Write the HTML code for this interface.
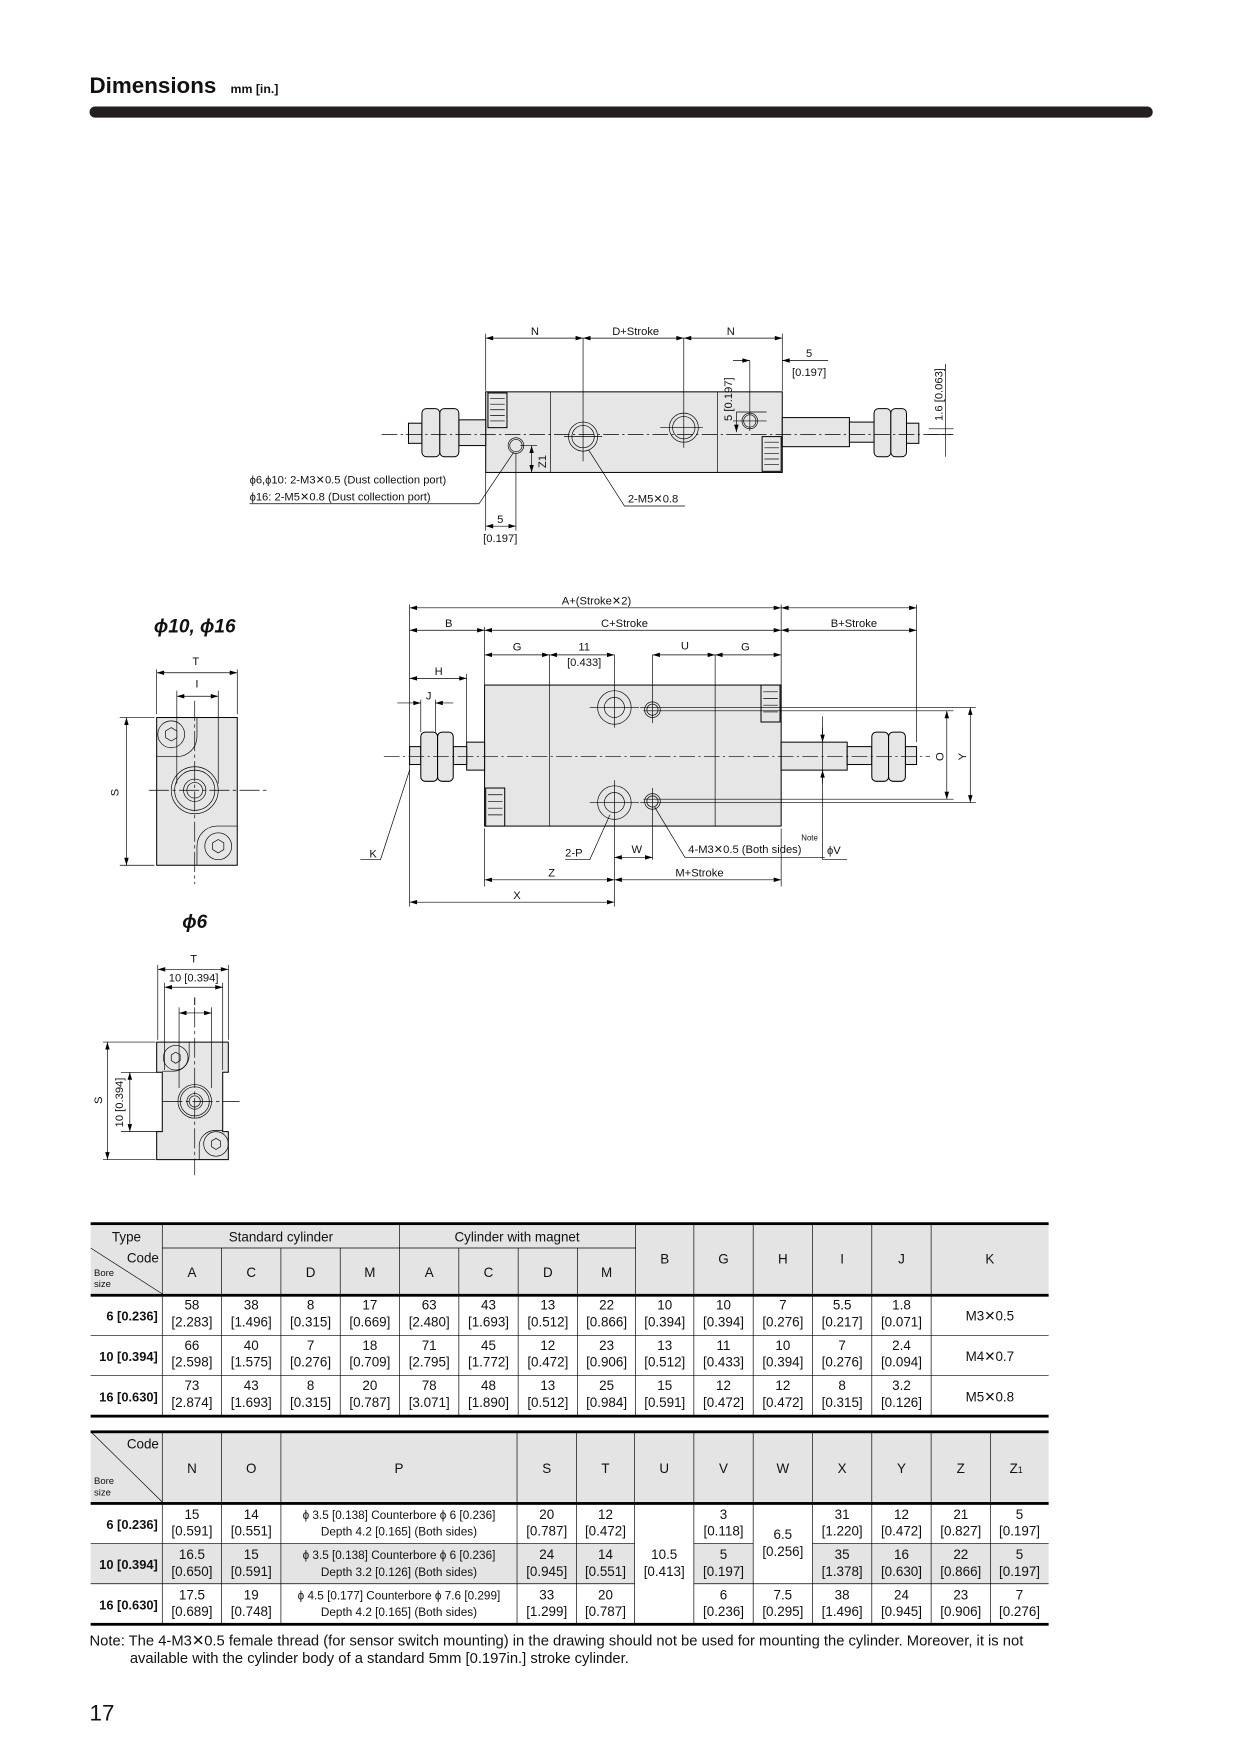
<!DOCTYPE html>
<html><head><meta charset="utf-8"><style>
html,body{margin:0;padding:0;background:#fff}
svg{display:block}
text{font-family:"Liberation Sans Narrow","Liberation Sans",sans-serif;fill:#111}
.t{font-size:12px}
.s{font-size:10px}
.d{font-size:10px}
.l{stroke:#000;stroke-width:.6;fill:none}
.ln{stroke:#000;stroke-width:.7;fill:none}
.b{fill:#e6e6e6;stroke:#000;stroke-width:.9}
.c{stroke:#000;stroke-width:.6;fill:none;stroke-dasharray:14 3 2 3}
.dm{stroke:#000;stroke-width:.6;fill:none;marker-start:url(#a);marker-end:url(#a)}
.de{stroke:#000;stroke-width:.6;fill:none;marker-end:url(#a)}
</style></head><body>
<svg width="1240" height="1754" viewBox="0 0 1108 1567" xmlns="http://www.w3.org/2000/svg">
<defs><marker id="a" viewBox="0 0 10 6" refX="10" refY="3" markerWidth="7" markerHeight="4" orient="auto-start-reverse" markerUnits="userSpaceOnUse"><path d="M0,0L10,3L0,6z" fill="#000"/></marker></defs>

<!-- header -->
<text x="80" y="83" style="font-family:'Liberation Sans',sans-serif;font-size:20px;font-weight:bold">Dimensions</text>
<text x="206" y="83" style="font-family:'Liberation Sans',sans-serif;font-size:11px;font-weight:bold">mm [in.]</text>
<rect x="80" y="95" width="950" height="10" rx="5" fill="#231f20"/>

<!-- ===== TOP VIEW ===== -->
<g>
<rect class="b" x="434" y="350" width="265" height="72"/>
<line class="l" x1="492" y1="350" x2="492" y2="422"/>
<line class="l" x1="641" y1="350" x2="641" y2="422"/>
<rect class="b" x="436" y="351" width="17" height="31"/>
<path class="l" d="M438,356h13M438,361h13M438,366h13M438,371h13M438,376h13"/>
<rect class="b" x="681" y="390" width="17" height="31"/>
<path class="l" d="M683,395h13M683,400h13M683,405h13M683,410h13M683,415h13"/>
<rect class="b" x="410" y="375" width="24" height="23"/>
<rect class="b" x="365" y="378" width="12" height="18"/>
<rect class="b" x="377" y="365" width="16" height="43" rx="4"/>
<rect class="b" x="393" y="365" width="17" height="43" rx="4"/>
<rect class="b" x="699" y="373" width="60" height="26"/>
<rect class="b" x="759" y="377" width="22" height="18"/>
<rect class="b" x="810" y="378" width="11" height="18"/>
<rect class="b" x="781" y="365" width="15" height="43" rx="4"/>
<rect class="b" x="796" y="365" width="14" height="43" rx="4"/>
<line class="c" x1="341" y1="388" x2="850" y2="388"/>
<circle class="l" cx="521" cy="390" r="13"/><circle class="l" cx="521" cy="390" r="10"/>
<line class="l" x1="521" y1="302" x2="521" y2="412"/><line class="l" x1="504" y1="390" x2="538" y2="390"/>
<circle class="l" cx="611" cy="382" r="13"/><circle class="l" cx="611" cy="382" r="10"/>
<line class="l" x1="611" y1="302" x2="611" y2="400"/><line class="l" x1="590" y1="382" x2="628" y2="382"/>
<circle class="l" cx="461" cy="398" r="7"/><circle class="l" cx="461" cy="398" r="5.5"/>
<circle class="l" cx="670" cy="376" r="7"/><circle class="l" cx="670" cy="376" r="5.5"/>
<line class="l" x1="670" y1="322" x2="670" y2="385"/><line class="l" x1="655" y1="376" x2="685" y2="376"/>
<line class="l" x1="434" y1="298" x2="434" y2="349"/>
<line class="l" x1="699" y1="298" x2="699" y2="349"/>
<line class="dm" x1="434" y1="302" x2="521" y2="302"/>
<line class="dm" x1="521" y1="302" x2="611" y2="302"/>
<line class="dm" x1="611" y1="302" x2="699" y2="302"/>
<text class="d" x="478" y="299" text-anchor="middle">N</text>
<text class="d" x="568" y="299" text-anchor="middle">D+Stroke</text>
<text class="d" x="653" y="299" text-anchor="middle">N</text>
<line class="de" x1="655" y1="322" x2="670" y2="322"/>
<line class="de" x1="740" y1="322" x2="699" y2="322"/>
<text class="d" x="723" y="319" text-anchor="middle">5</text>
<text class="d" x="723" y="336" text-anchor="middle">[0.197]</text>
<line class="l" x1="658" y1="368" x2="685" y2="368"/>
<line class="dm" x1="658" y1="368" x2="658" y2="386" style="marker-start:none"/>
<text class="d" transform="translate(654,376) rotate(-90)">5 [0.197]</text>
<line class="l" x1="830" y1="383" x2="852" y2="383"/>
<line class="l" x1="830" y1="388" x2="852" y2="388"/>
<line class="l" x1="845" y1="325" x2="845" y2="408"/>
<text class="d" transform="translate(842,376) rotate(-90)">1.6 [0.063]</text>
<line class="l" x1="465" y1="398" x2="480" y2="398"/>
<line class="dm" x1="475" y1="398" x2="475" y2="422"/>
<text class="d" transform="translate(488,418) rotate(-90)">Z1</text>
<line class="l" x1="434" y1="422" x2="434" y2="474"/>
<line class="l" x1="461" y1="405" x2="461" y2="474"/>
<line class="dm" x1="434" y1="470" x2="461" y2="470"/>
<text class="d" x="447" y="467" text-anchor="middle">5</text>
<text class="d" x="447" y="484" text-anchor="middle">[0.197]</text>
<polyline class="l" points="223,450 428,450 459,404"/>
<text class="d" x="223" y="432">ϕ6,ϕ10: 2-M3✕0.5 (Dust collection port)</text>
<text class="d" x="223" y="447">ϕ16: 2-M5✕0.8 (Dust collection port)</text>
<polyline class="l" points="526,402 558,452 612,452"/>
<text class="d" x="561" y="449">2-M5✕0.8</text>
</g>

<!-- ===== FRONT VIEW ===== -->
<g>
<rect class="b" x="433" y="612" width="265" height="126"/>
<line class="l" x1="491" y1="585" x2="491" y2="738"/>
<line class="l" x1="639" y1="585" x2="639" y2="738"/>
<rect class="b" x="680" y="612" width="17" height="33"/>
<path class="l" d="M682,618h13M682,624h13M682,630h13M682,636h13"/>
<rect class="b" x="434" y="704" width="17" height="34"/>
<path class="l" d="M436,710h13M436,716h13M436,722h13M436,728h13"/>
<rect class="b" x="417" y="663" width="16" height="25"/>
<rect class="b" x="405" y="667" width="12" height="16"/>
<rect class="b" x="366" y="667" width="10" height="16"/>
<rect class="b" x="376" y="654" width="15" height="44" rx="4"/>
<rect class="b" x="391" y="654" width="14" height="44" rx="4"/>
<rect class="b" x="698" y="663" width="59" height="25"/>
<rect class="b" x="757" y="667" width="22" height="16"/>
<rect class="b" x="809" y="667" width="10" height="16"/>
<rect class="b" x="779" y="654" width="15" height="44" rx="4"/>
<rect class="b" x="794" y="654" width="15" height="44" rx="4"/>
<line class="c" x1="343" y1="676" x2="831" y2="676"/>
<circle class="l" cx="549" cy="632" r="15"/><circle class="l" cx="549" cy="632" r="9"/>
<line class="l" x1="549" y1="585" x2="549" y2="650"/>
<circle class="l" cx="549" cy="717" r="15"/><circle class="l" cx="549" cy="717" r="9"/>
<line class="l" x1="549" y1="697" x2="549" y2="810"/>
<line class="l" x1="527" y1="632" x2="571" y2="632"/>
<line class="l" x1="527" y1="717" x2="571" y2="717"/>
<circle class="l" cx="583" cy="634" r="7"/><circle class="l" cx="583" cy="634" r="5"/>
<circle class="l" cx="583" cy="716" r="7"/><circle class="l" cx="583" cy="716" r="5"/>
<line class="l" x1="583" y1="585" x2="583" y2="646"/>
<line class="l" x1="583" y1="704" x2="583" y2="768"/>
<line class="l" x1="572" y1="632" x2="872" y2="632"/>
<line class="l" x1="575" y1="635" x2="852" y2="635"/>
<line class="l" x1="575" y1="714" x2="852" y2="714"/>
<line class="l" x1="572" y1="717" x2="872" y2="717"/>
<line class="l" x1="366" y1="540" x2="366" y2="810"/>
<line class="l" x1="819" y1="540" x2="819" y2="663"/>
<line class="l" x1="433" y1="560" x2="433" y2="612"/>
<line class="l" x1="698" y1="540" x2="698" y2="612"/>
<line class="l" x1="433" y1="740" x2="433" y2="792"/>
<line class="l" x1="698" y1="740" x2="698" y2="792"/>
<line class="l" x1="417" y1="602" x2="417" y2="663"/>
<line class="l" x1="376" y1="625" x2="376" y2="654"/>
<line class="l" x1="389" y1="625" x2="389" y2="654"/>
<line class="dm" x1="366" y1="543" x2="698" y2="543"/>
<line class="dm" x1="698" y1="543" x2="819" y2="543"/>
<text class="d" x="533" y="540" text-anchor="middle">A+(Stroke✕2)</text>
<line class="dm" x1="366" y1="563" x2="433" y2="563"/>
<line class="dm" x1="433" y1="563" x2="698" y2="563"/>
<line class="dm" x1="698" y1="563" x2="819" y2="563"/>
<text class="d" x="401" y="560" text-anchor="middle">B</text>
<text class="d" x="558" y="560" text-anchor="middle">C+Stroke</text>
<text class="d" x="763" y="560" text-anchor="middle">B+Stroke</text>
<line class="dm" x1="433" y1="585" x2="491" y2="585"/>
<line class="dm" x1="491" y1="585" x2="549" y2="585"/>
<line class="dm" x1="583" y1="585" x2="639" y2="585"/>
<line class="dm" x1="639" y1="585" x2="698" y2="585"/>
<text class="d" x="462" y="581" text-anchor="middle">G</text>
<text class="d" x="522" y="581" text-anchor="middle">11</text>
<text class="d" x="522" y="595" text-anchor="middle">[0.433]</text>
<text class="d" x="612" y="580" text-anchor="middle">U</text>
<text class="d" x="666" y="581" text-anchor="middle">G</text>
<line class="dm" x1="366" y1="606" x2="417" y2="606"/>
<text class="d" x="392" y="603" text-anchor="middle">H</text>
<line class="de" x1="355" y1="628" x2="376" y2="628"/>
<line class="de" x1="405" y1="628" x2="389" y2="628"/>
<text class="d" x="383" y="625" text-anchor="middle">J</text>
<polyline class="l" points="366,688 340,768 322,768"/>
<text class="d" x="330" y="766">K</text>
<polyline class="l" points="545,728 527,768 505,768"/>
<text class="d" x="505" y="765">2-P</text>
<line class="dm" x1="549" y1="766" x2="583" y2="766"/>
<text class="d" x="569" y="762" text-anchor="middle">W</text>
<polyline class="l" points="585,721 612,766 737,766"/>
<text class="d" x="615" y="762">4-M3✕0.5 (Both sides)</text>
<text x="716" y="751" style="font-size:7px">Note</text>
<line class="l" x1="735" y1="640" x2="735" y2="768"/>
<line class="de" x1="735" y1="650" x2="735" y2="663"/>
<line class="de" x1="735" y1="700" x2="735" y2="688"/>
<line class="l" x1="735" y1="768" x2="757" y2="768"/>
<text class="d" x="739" y="763">ϕV</text>
<line class="dm" x1="846" y1="635" x2="846" y2="714"/>
<line class="dm" x1="867" y1="632" x2="867" y2="717"/>
<text class="d" transform="translate(843,676) rotate(-90)" text-anchor="middle">O</text>
<text class="d" transform="translate(863,676) rotate(-90)" text-anchor="middle">Y</text>
<line class="dm" x1="433" y1="786" x2="549" y2="786"/>
<line class="dm" x1="549" y1="786" x2="698" y2="786"/>
<text class="d" x="493" y="783" text-anchor="middle">Z</text>
<text class="d" x="625" y="783" text-anchor="middle">M+Stroke</text>
<line class="dm" x1="366" y1="806" x2="549" y2="806"/>
<text class="d" x="462" y="803" text-anchor="middle">X</text>
</g>

<!-- ===== SIDE VIEW phi10, phi16 ===== -->
<g>
<text x="174" y="565" text-anchor="middle" style="font-family:'Liberation Sans',sans-serif;font-size:17px;font-weight:bold;font-style:italic">ϕ10, ϕ16</text>
<rect class="b" x="140" y="641" width="72" height="132"/>
<path class="l" d="M140,676h18a18,18 0 0 0 18,-18v-17"/>
<circle class="l" cx="153" cy="656" r="12"/><polygon class="l" points="153,650 158,653 158,659 153,662 148,659 148,653"/>
<path class="l" d="M212,738h-18a18,18 0 0 0 -18,18v17"/>
<circle class="l" cx="195" cy="756" r="12"/><polygon class="l" points="195,750 200,753 200,759 195,762 190,759 190,753"/>
<circle class="l" cx="174" cy="706" r="21"/><circle class="l" cx="174" cy="706" r="18"/>
<circle class="l" cx="174" cy="706" r="10"/><circle class="l" cx="174" cy="706" r="7"/>
<line class="c" x1="174" y1="626" x2="174" y2="790" style="stroke-dasharray:18 3 3 3"/>
<line class="c" x1="133" y1="706" x2="238" y2="706" style="stroke-dasharray:18 3 3 3"/>
<line class="l" x1="140" y1="598" x2="140" y2="638"/>
<line class="l" x1="212" y1="598" x2="212" y2="638"/>
<line class="dm" x1="140" y1="601" x2="212" y2="601"/>
<text class="d" x="175" y="594" text-anchor="middle">T</text>
<line class="l" x1="158" y1="617" x2="158" y2="700"/>
<line class="l" x1="195" y1="617" x2="195" y2="700"/>
<line class="dm" x1="158" y1="622" x2="195" y2="622"/>
<text class="d" x="176" y="614" text-anchor="middle">I</text>
<line class="l" x1="107" y1="641" x2="138" y2="641"/>
<line class="l" x1="107" y1="773" x2="138" y2="773"/>
<line class="dm" x1="113" y1="641" x2="113" y2="773"/>
<text class="d" transform="translate(106,708) rotate(-90)" text-anchor="middle">S</text>
</g>

<!-- ===== SIDE VIEW phi6 ===== -->
<g>
<text x="174" y="829" text-anchor="middle" style="font-family:'Liberation Sans',sans-serif;font-size:17px;font-weight:bold;font-style:italic">ϕ6</text>
<path class="b" d="M140,931H204V958H199V1011H204V1036H140V1011H145V958H140Z"/>
<circle class="l" cx="157" cy="945" r="11"/><polygon class="l" points="157,940 161,942.5 161,947.5 157,950 153,947.5 153,942.5"/>
<circle class="l" cx="193" cy="1022" r="11"/><polygon class="l" points="193,1017 197,1019.5 197,1024.5 193,1027 189,1024.5 189,1019.5"/>
<path class="l" d="M169,931v12a14,14 0 0 1 -14,14h-10"/>
<path class="l" d="M178,1036v-12a14,14 0 0 1 14,-14h7"/>
<circle class="l" cx="174" cy="984" r="15"/><circle class="l" cx="174" cy="984" r="13"/>
<circle class="l" cx="174" cy="984" r="7"/><circle class="l" cx="174" cy="984" r="5"/>
<line class="c" x1="174" y1="900" x2="174" y2="1050" style="stroke-dasharray:18 3 3 3"/>
<line class="c" x1="145" y1="984" x2="214" y2="984" style="stroke-dasharray:18 3 3 3"/>
<line class="l" x1="141" y1="862" x2="141" y2="929"/>
<line class="l" x1="204" y1="862" x2="204" y2="929"/>
<line class="dm" x1="141" y1="866" x2="204" y2="866"/>
<text class="d" x="173" y="860" text-anchor="middle">T</text>
<line class="l" x1="147" y1="878" x2="147" y2="956"/>
<line class="l" x1="199" y1="878" x2="199" y2="956"/>
<line class="dm" x1="147" y1="882" x2="199" y2="882"/>
<text class="d" x="173" y="877" text-anchor="middle">10 [0.394]</text>
<line class="l" x1="160" y1="900" x2="160" y2="972"/>
<line class="l" x1="189" y1="900" x2="189" y2="972"/>
<line class="dm" x1="160" y1="905" x2="189" y2="905"/>
<text class="d" x="174" y="898" text-anchor="middle">I</text>
<line class="l" x1="92" y1="931" x2="139" y2="931"/>
<line class="l" x1="92" y1="1036" x2="139" y2="1036"/>
<line class="dm" x1="96" y1="931" x2="96" y2="1036"/>
<text class="d" transform="translate(91,983) rotate(-90)" text-anchor="middle">S</text>
<line class="l" x1="108" y1="958" x2="144" y2="958"/>
<line class="l" x1="108" y1="1011" x2="144" y2="1011"/>
<line class="dm" x1="116" y1="958" x2="116" y2="1011"/>
<text class="d" transform="translate(110,985) rotate(-90)" text-anchor="middle">10 [0.394]</text>
</g>

<!-- ===== TABLE 1 ===== -->
<g class="t">
<rect x="81" y="1093" width="856" height="64" fill="#e4e4e4"/>
<g stroke="#000" stroke-width=".6">
<line x1="145" y1="1115" x2="568" y2="1115"/>
<line x1="81" y1="1193" x2="937" y2="1193"/>
<line x1="81" y1="1229" x2="937" y2="1229"/>
<line x1="145" y1="1093" x2="145" y2="1265"/>
<line x1="357" y1="1093" x2="357" y2="1265"/>
<line x1="568" y1="1093" x2="568" y2="1265"/>
<line x1="620" y1="1093" x2="620" y2="1265"/><line x1="673" y1="1093" x2="673" y2="1265"/>
<line x1="726" y1="1093" x2="726" y2="1265"/><line x1="779" y1="1093" x2="779" y2="1265"/>
<line x1="832" y1="1093" x2="832" y2="1265"/>
<line x1="198" y1="1115" x2="198" y2="1265"/><line x1="251" y1="1115" x2="251" y2="1265"/>
<line x1="304" y1="1115" x2="304" y2="1265"/><line x1="410" y1="1115" x2="410" y2="1265"/>
<line x1="463" y1="1115" x2="463" y2="1265"/><line x1="516" y1="1115" x2="516" y2="1265"/>
<line x1="81" y1="1115" x2="145" y2="1156"/>
</g>
<rect x="81" y="1092" width="856" height="2.5" fill="#000"/>
<rect x="81" y="1156" width="856" height="2.5" fill="#000"/>
<rect x="81" y="1264" width="856" height="2.5" fill="#000"/>
<g text-anchor="middle" font-size="12">
<text x="113" y="1109">Type</text>
<text x="251" y="1109">Standard cylinder</text>
<text x="462" y="1109">Cylinder with magnet</text>
<text x="171.5" y="1141">A</text><text x="224.5" y="1141">C</text><text x="277.5" y="1141">D</text><text x="330.5" y="1141">M</text>
<text x="383.5" y="1141">A</text><text x="436.5" y="1141">C</text><text x="489.5" y="1141">D</text><text x="542" y="1141">M</text>
<text x="594" y="1129">B</text><text x="646.5" y="1129">G</text><text x="699.5" y="1129">H</text><text x="752.5" y="1129">I</text><text x="805.5" y="1129">J</text><text x="884.5" y="1129">K</text>
</g>
<text x="142" y="1128" text-anchor="end" font-size="12">Code</text>
<text x="84" y="1140" font-size="8.5">Bore</text><text x="84" y="1150" font-size="8.5">size</text>
<g text-anchor="end" font-weight="bold" font-size="11.5">
<text x="141" y="1180">6 [0.236]</text><text x="141" y="1216">10 [0.394]</text><text x="141" y="1252">16 [0.630]</text>
</g>
<g text-anchor="middle" font-size="12">
<text x="171.5" y="1170">58</text><text x="171.5" y="1185">[2.283]</text>
<text x="224.5" y="1170">38</text><text x="224.5" y="1185">[1.496]</text>
<text x="277.5" y="1170">8</text><text x="277.5" y="1185">[0.315]</text>
<text x="330.5" y="1170">17</text><text x="330.5" y="1185">[0.669]</text>
<text x="383.5" y="1170">63</text><text x="383.5" y="1185">[2.480]</text>
<text x="436.5" y="1170">43</text><text x="436.5" y="1185">[1.693]</text>
<text x="489.5" y="1170">13</text><text x="489.5" y="1185">[0.512]</text>
<text x="542" y="1170">22</text><text x="542" y="1185">[0.866]</text>
<text x="594" y="1170">10</text><text x="594" y="1185">[0.394]</text>
<text x="646.5" y="1170">10</text><text x="646.5" y="1185">[0.394]</text>
<text x="699.5" y="1170">7</text><text x="699.5" y="1185">[0.276]</text>
<text x="752.5" y="1170">5.5</text><text x="752.5" y="1185">[0.217]</text>
<text x="805.5" y="1170">1.8</text><text x="805.5" y="1185">[0.071]</text>
<text x="884.5" y="1180">M3✕0.5</text>

<text x="171.5" y="1206">66</text><text x="171.5" y="1221">[2.598]</text>
<text x="224.5" y="1206">40</text><text x="224.5" y="1221">[1.575]</text>
<text x="277.5" y="1206">7</text><text x="277.5" y="1221">[0.276]</text>
<text x="330.5" y="1206">18</text><text x="330.5" y="1221">[0.709]</text>
<text x="383.5" y="1206">71</text><text x="383.5" y="1221">[2.795]</text>
<text x="436.5" y="1206">45</text><text x="436.5" y="1221">[1.772]</text>
<text x="489.5" y="1206">12</text><text x="489.5" y="1221">[0.472]</text>
<text x="542" y="1206">23</text><text x="542" y="1221">[0.906]</text>
<text x="594" y="1206">13</text><text x="594" y="1221">[0.512]</text>
<text x="646.5" y="1206">11</text><text x="646.5" y="1221">[0.433]</text>
<text x="699.5" y="1206">10</text><text x="699.5" y="1221">[0.394]</text>
<text x="752.5" y="1206">7</text><text x="752.5" y="1221">[0.276]</text>
<text x="805.5" y="1206">2.4</text><text x="805.5" y="1221">[0.094]</text>
<text x="884.5" y="1216">M4✕0.7</text>

<text x="171.5" y="1242">73</text><text x="171.5" y="1257">[2.874]</text>
<text x="224.5" y="1242">43</text><text x="224.5" y="1257">[1.693]</text>
<text x="277.5" y="1242">8</text><text x="277.5" y="1257">[0.315]</text>
<text x="330.5" y="1242">20</text><text x="330.5" y="1257">[0.787]</text>
<text x="383.5" y="1242">78</text><text x="383.5" y="1257">[3.071]</text>
<text x="436.5" y="1242">48</text><text x="436.5" y="1257">[1.890]</text>
<text x="489.5" y="1242">13</text><text x="489.5" y="1257">[0.512]</text>
<text x="542" y="1242">25</text><text x="542" y="1257">[0.984]</text>
<text x="594" y="1242">15</text><text x="594" y="1257">[0.591]</text>
<text x="646.5" y="1242">12</text><text x="646.5" y="1257">[0.472]</text>
<text x="699.5" y="1242">12</text><text x="699.5" y="1257">[0.472]</text>
<text x="752.5" y="1242">8</text><text x="752.5" y="1257">[0.315]</text>
<text x="805.5" y="1242">3.2</text><text x="805.5" y="1257">[0.126]</text>
<text x="884.5" y="1252">M5✕0.8</text>
</g>
</g>

<!-- ===== TABLE 2 ===== -->
<g>
<rect x="81" y="1279" width="856" height="64" fill="#e4e4e4"/>
<rect x="81" y="1379" width="486" height="36" fill="#e4e4e4"/>
<rect x="620" y="1379" width="53" height="36" fill="#e4e4e4"/>
<rect x="726" y="1379" width="211" height="36" fill="#e4e4e4"/>
<g stroke="#000" stroke-width=".6">
<line x1="81" y1="1379" x2="567" y2="1379"/><line x1="620" y1="1379" x2="673" y2="1379"/><line x1="726" y1="1379" x2="937" y2="1379"/>
<line x1="81" y1="1415" x2="567" y2="1415"/><line x1="620" y1="1415" x2="937" y2="1415"/>
<line x1="145" y1="1279" x2="145" y2="1451"/><line x1="198" y1="1279" x2="198" y2="1451"/>
<line x1="251" y1="1279" x2="251" y2="1451"/><line x1="462" y1="1279" x2="462" y2="1451"/>
<line x1="515" y1="1279" x2="515" y2="1451"/><line x1="567" y1="1279" x2="567" y2="1451"/>
<line x1="620" y1="1279" x2="620" y2="1451"/><line x1="673" y1="1279" x2="673" y2="1451"/>
<line x1="726" y1="1279" x2="726" y2="1451"/><line x1="779" y1="1279" x2="779" y2="1451"/>
<line x1="832" y1="1279" x2="832" y2="1451"/><line x1="885" y1="1279" x2="885" y2="1451"/>
<line x1="81" y1="1279" x2="145" y2="1342"/>
</g>
<rect x="81" y="1278" width="856" height="2.5" fill="#000"/>
<rect x="81" y="1342" width="856" height="2.5" fill="#000"/>
<rect x="81" y="1450" width="856" height="2.5" fill="#000"/>
<text x="142" y="1294" text-anchor="end" font-size="12">Code</text>
<text x="84" y="1326" font-size="8.5">Bore</text><text x="84" y="1336" font-size="8.5">size</text>
<g text-anchor="middle" font-size="12">
<text x="171.5" y="1316">N</text><text x="224.5" y="1316">O</text><text x="356.5" y="1316">P</text>
<text x="488.5" y="1316">S</text><text x="541" y="1316">T</text><text x="593.5" y="1316">U</text>
<text x="646.5" y="1316">V</text><text x="699.5" y="1316">W</text><text x="752.5" y="1316">X</text>
<text x="805.5" y="1316">Y</text><text x="858.5" y="1316">Z</text><text x="908" y="1316">Z<tspan font-size="8">1</tspan></text>
</g>
<g text-anchor="end" font-weight="bold" font-size="11.5">
<text x="141" y="1366">6 [0.236]</text><text x="141" y="1402">10 [0.394]</text><text x="141" y="1438">16 [0.630]</text>
</g>
<g text-anchor="middle" font-size="12">
<text x="171.5" y="1357">15</text><text x="171.5" y="1372">[0.591]</text>
<text x="224.5" y="1357">14</text><text x="224.5" y="1372">[0.551]</text>
<text x="488.5" y="1357">20</text><text x="488.5" y="1372">[0.787]</text>
<text x="541" y="1357">12</text><text x="541" y="1372">[0.472]</text>
<text x="646.5" y="1357">3</text><text x="646.5" y="1372">[0.118]</text>
<text x="752.5" y="1357">31</text><text x="752.5" y="1372">[1.220]</text>
<text x="805.5" y="1357">12</text><text x="805.5" y="1372">[0.472]</text>
<text x="858.5" y="1357">21</text><text x="858.5" y="1372">[0.827]</text>
<text x="911" y="1357">5</text><text x="911" y="1372">[0.197]</text>

<text x="171.5" y="1393">16.5</text><text x="171.5" y="1408">[0.650]</text>
<text x="224.5" y="1393">15</text><text x="224.5" y="1408">[0.591]</text>
<text x="488.5" y="1393">24</text><text x="488.5" y="1408">[0.945]</text>
<text x="541" y="1393">14</text><text x="541" y="1408">[0.551]</text>
<text x="646.5" y="1393">5</text><text x="646.5" y="1408">[0.197]</text>
<text x="752.5" y="1393">35</text><text x="752.5" y="1408">[1.378]</text>
<text x="805.5" y="1393">16</text><text x="805.5" y="1408">[0.630]</text>
<text x="858.5" y="1393">22</text><text x="858.5" y="1408">[0.866]</text>
<text x="911" y="1393">5</text><text x="911" y="1408">[0.197]</text>

<text x="171.5" y="1429">17.5</text><text x="171.5" y="1444">[0.689]</text>
<text x="224.5" y="1429">19</text><text x="224.5" y="1444">[0.748]</text>
<text x="488.5" y="1429">33</text><text x="488.5" y="1444">[1.299]</text>
<text x="541" y="1429">20</text><text x="541" y="1444">[0.787]</text>
<text x="646.5" y="1429">6</text><text x="646.5" y="1444">[0.236]</text>
<text x="699.5" y="1429">7.5</text><text x="699.5" y="1444">[0.295]</text>
<text x="752.5" y="1429">38</text><text x="752.5" y="1444">[1.496]</text>
<text x="805.5" y="1429">24</text><text x="805.5" y="1444">[0.945]</text>
<text x="858.5" y="1429">23</text><text x="858.5" y="1444">[0.906]</text>
<text x="911" y="1429">7</text><text x="911" y="1444">[0.276]</text>

<text x="593.5" y="1393">10.5</text><text x="593.5" y="1408">[0.413]</text>
<text x="699.5" y="1375">6.5</text><text x="699.5" y="1390">[0.256]</text>
</g>
<g text-anchor="middle" font-size="10.5">
<text x="356.5" y="1357">ϕ 3.5 [0.138] Counterbore ϕ 6 [0.236]</text><text x="356.5" y="1372">Depth 4.2 [0.165] (Both sides)</text>
<text x="356.5" y="1393">ϕ 3.5 [0.138] Counterbore ϕ 6 [0.236]</text><text x="356.5" y="1408">Depth 3.2 [0.126] (Both sides)</text>
<text x="356.5" y="1429">ϕ 4.5 [0.177] Counterbore ϕ 7.6 [0.299]</text><text x="356.5" y="1444">Depth 4.2 [0.165] (Both sides)</text>
</g>
</g>

<text x="80" y="1470" font-size="13.2">Note: The 4-M3✕0.5 female thread (for sensor switch mounting) in the drawing should not be used for mounting the cylinder. Moreover, it is not</text>
<text x="116" y="1486" font-size="13.2">available with the cylinder body of a standard 5mm [0.197in.] stroke cylinder.</text>
<text x="80" y="1537" style="font-family:'Liberation Sans',sans-serif;font-size:20px">17</text>
</svg>
</body></html>
